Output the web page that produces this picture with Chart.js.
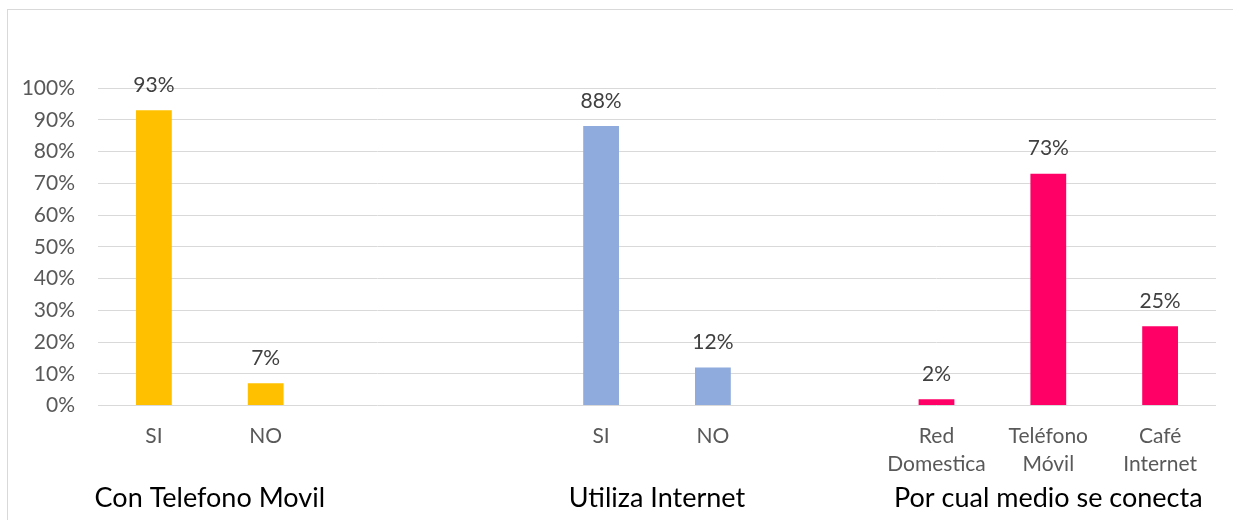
<!DOCTYPE html>
<html>
<head>
<meta charset="utf-8">
<script src="https://cdn.jsdelivr.net/npm/chart.js@4.4.0/dist/chart.umd.min.js"></script>
<style>
  html, body { margin: 0; padding: 0; background: #fff; }
  #wrap { width: 1233px; height: 520px; }
</style>
</head>
<body>
<div id="wrap"><canvas id="bar_chart" width="1233" height="520"></canvas></div>
<script>
// categories (empty strings are spacer slots between the groups)
var categories = [
    "SI", "NO", "", "", "SI", "NO", "", ["Red", "Domestica"], ["Teléfono", "Móvil"], ["Café", "Internet"]
];
var values = [93, 7, null, null, 88, 12, null, 2, 73, 25];
var barColors = [
    "#FFC000", "#FFC000", "#FFC000", "#FFC000",
    "#8FAADC", "#8FAADC", "#8FAADC",
    "#FF0066", "#FF0066", "#FF0066"
];
var groupNames = ["Con Telefono Movil", "Utiliza Internet", "Por cual medio se conecta"];
var groupFirst = [0, 4, 7];
var groupLast = [1, 5, 9];
var yTicks = [0, 10, 20, 30, 40, 50, 60, 70, 80, 90, 100];

var FONT = "Lato, 'Open Sans', sans-serif";

// outer frame
var framePlugin = {
    id: "frame",
    beforeDraw: function (chart) {
        var ctx = chart.ctx;
        ctx.save();
        ctx.strokeStyle = "#d9d9d9";
        ctx.lineWidth = 1;
        ctx.strokeRect(7.5, 9.5, 1400, 700);
        ctx.restore();
    }
};

// value labels above the bars and the group titles under the axis
var labelsPlugin = {
    id: "labels",
    afterDatasetsDraw: function (chart) {
        var ctx = chart.ctx;
        var meta = chart.getDatasetMeta(0);
        ctx.save();
        ctx.font = "21px " + FONT;
        ctx.fillStyle = "#404040";
        ctx.textAlign = "center";
        ctx.textBaseline = "middle";
        meta.data.forEach(function (bar, i) {
            if (values[i] === null) return;
            ctx.fillText(values[i] + "%", bar.x, bar.y - 25);
        });

        var xs = chart.scales.x;
        ctx.font = "27px " + FONT;
        ctx.fillStyle = "#000000";
        for (var g = 0; g < groupNames.length; g++) {
            var cx = (xs.getPixelForValue(groupFirst[g]) + xs.getPixelForValue(groupLast[g])) / 2;
            ctx.fillText(groupNames[g], cx, 498);
        }
        ctx.restore();
    }
};

new Chart(document.getElementById("bar_chart").getContext("2d"), {
    type: "bar",
    data: {
        labels: categories,
        datasets: [{
            data: values,
            backgroundColor: barColors,
            barPercentage: 0.32,
            categoryPercentage: 1.0
        }]
    },
    options: {
        responsive: false,
        animation: false,
        layout: { padding: { left: 0, right: 17, top: 88, bottom: 0 } },
        plugins: {
            legend: { display: false },
            tooltip: { enabled: false }
        },
        scales: {
            x: {
                grid: { display: false, drawTicks: false },
                border: { display: false },
                ticks: {
                    color: "#595959",
                    font: { family: FONT, size: 21, lineHeight: 1.33 },
                    padding: 17,
                    maxRotation: 0,
                    autoSkip: false
                },
                afterFit: function (scale) { scale.height = 114.5; }
            },
            y: {
                min: 0,
                max: 100,
                border: { display: false },
                grid: { color: "#d9d9d9", lineWidth: 1, drawTicks: false },
                afterBuildTicks: function (scale) {
                    scale.ticks = yTicks.map(function (v) { return { value: v }; });
                },
                ticks: {
                    color: "#595959",
                    font: { family: FONT, size: 21 },
                    padding: 23,
                    callback: function (v) { return v + "%"; }
                },
                afterFit: function (scale) { scale.width = 98; }
            }
        }
    },
    plugins: [framePlugin, labelsPlugin]
});
</script>
</body>
</html>
